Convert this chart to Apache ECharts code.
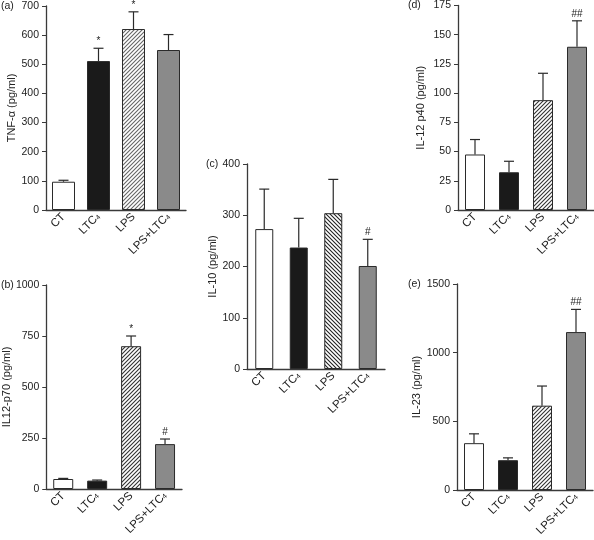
<!DOCTYPE html>
<html>
<head>
<meta charset="utf-8">
<script src="https://cdn.jsdelivr.net/npm/echarts@6/dist/echarts.min.js"></script>
<style>html,body{margin:0;padding:0;background:#fff}#c{width:594px;height:540px}</style>
</head>
<body>
<div id="c"></div>
<script>
// ---- data ----
const categories = ['CT', 'LTC4', 'LPS', 'LPS+LTC4'];

const tnfMean = [97, 511, 621, 549];
const tnfErr = [5, 44, 59, 53];
const tnfSig = ['', '*', '*', ''];

const il12p70Mean = [49, 41, 700, 220];
const il12p70Err = [3, 3, 50, 25];
const il12p70Sig = ['', '', '*', '#'];

const il10Mean = [273, 237, 304, 201];
const il10Err = [78, 57, 66, 52];
const il10Sig = ['', '', '', '#'];

const p40Mean = [47.5, 32.3, 94, 139.7];
const p40Err = [12.8, 9.4, 23, 22.2];
const p40Sig = ['', '', '', '##'];

const il23Mean = [341, 217, 614, 1150];
const il23Err = [68, 17, 143, 165];
const il23Sig = ['', '', '', '##'];

const tnfTicks = [0, 100, 200, 300, 400, 500, 600, 700];
const il12p70Ticks = [0, 250, 500, 750, 1000];
const il10Ticks = [0, 100, 200, 300, 400];
const p40Ticks = [0, 25, 50, 75, 100, 125, 150, 175];
const il23Ticks = [0, 500, 1000, 1500];

// ---- styling ----
const FONT = 'Liberation Sans, Arial, sans-serif';
const AX = '#3a3a3a';

function hatch(dir, color) {
  const s = 4;
  const cv = document.createElement('canvas');
  cv.width = s; cv.height = s;
  const ctx = cv.getContext('2d');
  ctx.fillStyle = '#fff';
  ctx.fillRect(0, 0, s, s);
  ctx.strokeStyle = color;
  ctx.lineWidth = 1.1;
  ctx.beginPath();
  if (dir === '/') {
    ctx.moveTo(-1, s + 1); ctx.lineTo(s + 1, -1);
    ctx.moveTo(-1, 1); ctx.lineTo(1, -1);
    ctx.moveTo(s - 1, s + 1); ctx.lineTo(s + 1, s - 1);
  } else {
    ctx.moveTo(-1, -1); ctx.lineTo(s + 1, s + 1);
    ctx.moveTo(s - 1, -1); ctx.lineTo(s + 1, 1);
    ctx.moveTo(-1, s - 1); ctx.lineTo(1, s + 1);
  }
  ctx.stroke();
  return { image: cv, repeat: 'repeat' };
}

const panels = [
  { label: '(a)', name: 'TNF-\u03b1 (pg/ml)', mean: tnfMean, err: tnfErr, sig: tnfSig, ticks: tnfTicks,
    grid: { left: 46, top: 6, width: 140, height: 204 }, barW: 23, hatch: hatch('/', '#666'), lx: 1, nameGap: 28 },
  { label: '(b)', name: 'IL12-p70 (pg/ml)', mean: il12p70Mean, err: il12p70Err, sig: il12p70Sig, ticks: il12p70Ticks,
    grid: { left: 44, top: 285, width: 138, height: 204 }, barW: 20, hatch: hatch('/', '#333'), lx: 1, nameGap: 32 },
  { label: '(c)', name: 'IL-10 (pg/ml)', mean: il10Mean, err: il10Err, sig: il10Sig, ticks: il10Ticks,
    grid: { left: 247, top: 164, width: 138, height: 205 }, barW: 18, hatch: hatch('\\', '#222'), lx: 206, nameGap: 29 },
  { label: '(d)', name: 'IL-12 p40 (pg/ml)', mean: p40Mean, err: p40Err, sig: p40Sig, ticks: p40Ticks,
    grid: { left: 458, top: 5, width: 136, height: 205 }, barW: 20, hatch: hatch('/', '#333'), lx: 408, nameGap: 32 },
  { label: '(e)', name: 'IL-23 (pg/ml)', mean: il23Mean, err: il23Err, sig: il23Sig, ticks: il23Ticks,
    grid: { left: 457, top: 284, width: 136, height: 206 }, barW: 20, hatch: hatch('/', '#333'), lx: 408, nameGap: 33 }
];

const grids = [], xAxes = [], yAxes = [], series = [], graphics = [];

panels.forEach((p, k) => {
  grids.push(p.grid);
  const fills = ['#ffffff', '#1a1a1a', p.hatch, '#8a8a8a'];
  xAxes.push({
    type: 'category', gridIndex: k, data: categories,
    axisLine: { lineStyle: { color: AX, width: 1.3 } },
    axisTick: { show: false },
    axisLabel: {
      rotate: 45, margin: 5, color: '#222', fontFamily: FONT, fontSize: 11.5,
      formatter: v => v.replace(/LTC4/g, 'LTC{s|4}'),
      rich: { s: { fontSize: 7, fontFamily: FONT, color: '#222', padding: [3, 0, 0, 0] } }
    }
  });
  const tmax = p.ticks[p.ticks.length - 1];
  yAxes.push({
    type: 'value', gridIndex: k, min: 0, max: tmax, interval: p.ticks[1] - p.ticks[0],
    name: p.name, nameLocation: 'middle', nameGap: p.nameGap,
    nameTextStyle: { fontFamily: FONT, fontSize: 11, color: '#222' },
    axisLine: { show: true, lineStyle: { color: AX, width: 1.3 } },
    axisTick: { show: true, length: 4, lineStyle: { color: AX } },
    axisLabel: { margin: 7, color: '#222', fontFamily: FONT, fontSize: 10.5, formatter: v => String(v) },
    splitLine: { show: false }
  });
  series.push({
    type: 'bar', xAxisIndex: k, yAxisIndex: k, barWidth: p.barW,
    data: p.mean.map((v, i) => ({ value: v, itemStyle: { color: fills[i], borderColor: '#2a2a2a', borderWidth: 1 } })),
    silent: true
  });
  series.push({
    type: 'custom', xAxisIndex: k, yAxisIndex: k,
    data: p.mean.map((v, i) => [i, v, v + p.err[i]]),
    renderItem: (params, api) => {
      const b = api.coord([api.value(0), api.value(1)]);
      const t = api.coord([api.value(0), api.value(2)]);
      const sig = p.sig[params.dataIndex];
      const hw = 5;
      const st = { stroke: '#2a2a2a', lineWidth: 1.2 };
      const ch = [
        { type: 'line', shape: { x1: b[0], y1: b[1], x2: t[0], y2: t[1] }, style: st },
        { type: 'line', shape: { x1: t[0] - hw, y1: t[1], x2: t[0] + hw, y2: t[1] }, style: st }
      ];
      if (sig) {
        ch.push({ type: 'text', style: { text: sig, x: t[0], y: t[1] - 2, align: 'center', verticalAlign: 'bottom',
          font: '10px ' + FONT, fill: '#222' } });
      }
      return { type: 'group', children: ch };
    },
    z: 5, silent: true
  });
  graphics.push({ type: 'text', left: p.lx, top: p.grid.top - 5,
    style: { text: p.label, font: '10.5px ' + FONT, fill: '#222' } });
});

const chart = echarts.init(document.getElementById('c'), null, { renderer: 'canvas' });
chart.setOption({
  animation: false,
  backgroundColor: '#fff',
  grid: grids, xAxis: xAxes, yAxis: yAxes, series: series, graphic: graphics
});
</script>
</body>
</html>
